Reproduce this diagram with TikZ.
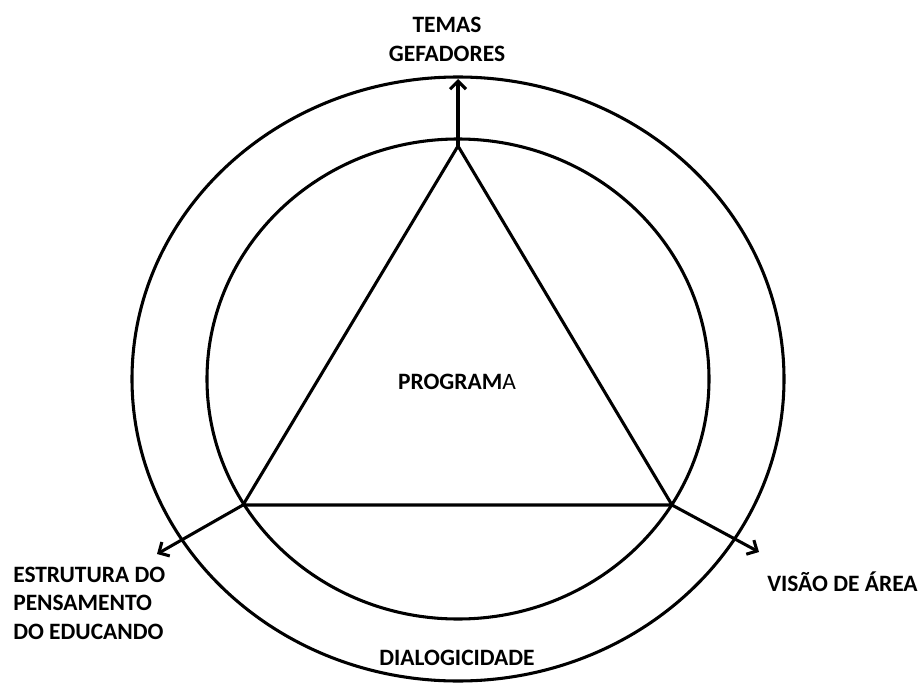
\documentclass[tikz,border=0pt]{standalone}
\usepackage{fontspec}
\setmainfont{Carlito}
\usetikzlibrary{arrows.meta}
\begin{document}
\begin{tikzpicture}[x=0.75pt,y=-0.75pt,
  ln/.style={line width=2.3pt},
  arr/.style={ln,-{Straight Barb[length=6pt,width=12pt,line width=2.3pt]}},
  lbl/.style={font=\fontsize{17.6}{21.5}\selectfont\bfseries,inner sep=0pt,text depth=0pt}]
\useasboundingbox (0,0) rectangle (923,684);
\coordinate (C) at (458,379);
\draw[ln] (C) ellipse [x radius=326, y radius=302];
\draw[ln] (C) ellipse [x radius=251, y radius=240];
\coordinate (A) at (458,146);
\coordinate (B) at (243,505);
\coordinate (D) at (672,505);
\draw[ln,line join=miter] (A) -- (B) -- (D) -- cycle;
\coordinate (tA) at (458,79);
\coordinate (tB) at (157,554);
\coordinate (tD) at (759,552);
\draw[arr] (A) -- (tA);
\draw[arr] (B) -- (tB);
\draw[arr] (D) -- (tD);
\node[lbl,align=center] (temas) at (447,39) {TEMAS\\GEFADORES};
\node[lbl] (prog) at (457,382) {PROGRAM{\mdseries A}};
\node[lbl,align=left,anchor=west] (estr) at (13,603) {ESTRUTURA DO\\PENSAMENTO\\DO EDUCANDO};
\node[lbl,anchor=west] (visao) at (767,582) {VISÃO DE ÁREA};
\node[lbl] (dial) at (457,658) {DIALOGICIDADE};
\end{tikzpicture}
\end{document}
